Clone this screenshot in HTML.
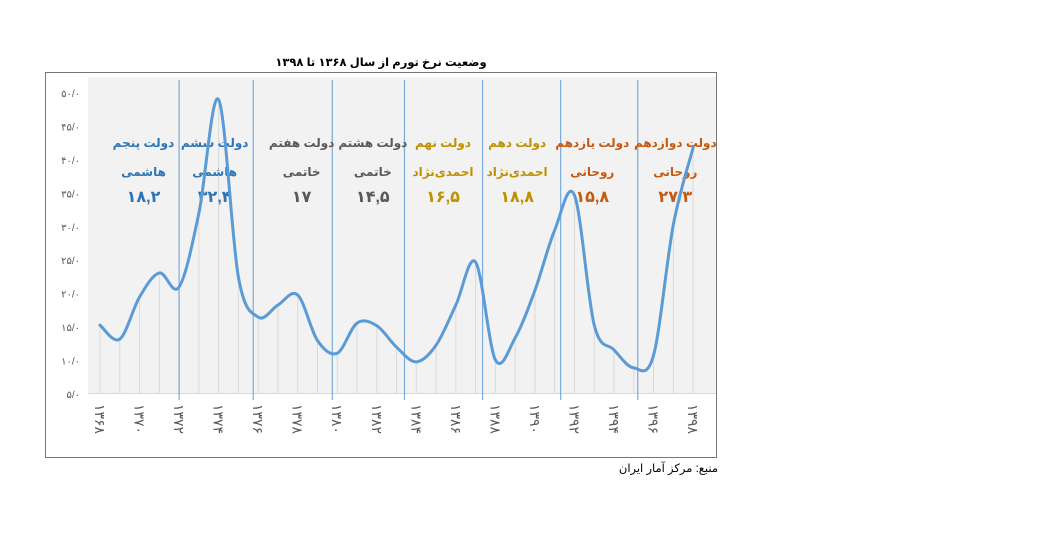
<!DOCTYPE html>
<html><head><meta charset="utf-8"><style>
body{margin:0;background:#fff;width:1047px;height:535px;overflow:hidden;font-family:"Liberation Sans","Noto Sans CJK SC",sans-serif}
</style></head><body>
<svg width="1047" height="535" xmlns="http://www.w3.org/2000/svg" font-family="'Liberation Sans','DejaVu Sans',sans-serif">
<rect x="45.5" y="72.5" width="671" height="385" fill="#fff" stroke="#777"/>
<rect x="88" y="77" width="628" height="316" fill="#f2f2f2"/>
<text x="381" y="66" text-anchor="middle" font-size="11.5" font-weight="bold" fill="#000" direction="rtl">وضعیت نرخ تورم از سال ۱۳۶۸ تا ۱۳۹۸</text>
<text x="718" y="472" text-anchor="start" font-size="11.5" fill="#000" direction="rtl">منبع: مرکز آمار ایران</text>
<g id="grid"></g><g id="bounds"></g><g id="yt"></g><g id="xt"></g><g id="labels"></g><g id="series"></g>
</svg>
<script>
const years=[1368,1369,1370,1371,1372,1373,1374,1375,1376,1377,1378,1379,1380,1381,1382,1383,1384,1385,1386,1387,1388,1389,1390,1391,1392,1393,1394,1395,1396,1397,1398];
const inflation=[15.3,13.2,19.5,23.1,21,32,49,22.5,16.5,18.3,19.8,13,11.1,15.6,15.2,12,9.8,12.3,18.3,24.7,10.1,13.4,20.5,29.5,34.7,15.3,11.6,8.9,10.8,30.3,41.8];
const yTicks=[5,10,15,20,25,30,35,40,45,50];
const yTickLabels=["۵/۰","۱۰/۰","۱۵/۰","۲۰/۰","۲۵/۰","۳۰/۰","۳۵/۰","۴۰/۰","۴۵/۰","۵۰/۰"];
const xTicks=[1368,1370,1372,1374,1376,1378,1380,1382,1384,1386,1388,1390,1392,1394,1396,1398];
const xTickLabels=["۱۳۶۸","۱۳۷۰","۱۳۷۲","۱۳۷۴","۱۳۷۶","۱۳۷۸","۱۳۸۰","۱۳۸۲","۱۳۸۴","۱۳۸۶","۱۳۸۸","۱۳۹۰","۱۳۹۲","۱۳۹۴","۱۳۹۶","۱۳۹۸"];
const boundaries=[1372,1375.75,1379.75,1383.4,1387.35,1391.3,1395.2];
const govNames=["دولت پنجم","دولت ششم","دولت هفتم","دولت هشتم","دولت نهم","دولت دهم","دولت یازدهم","دولت دوازدهم"];
const govPresidents=["هاشمی","هاشمی","خاتمی","خاتمی","احمدی‌نژاد","احمدی‌نژاد","روحانی","روحانی"];
const govAvg=["۱۸,۲","۳۲,۴","۱۷","۱۴,۵","۱۶,۵","۱۸,۸","۱۵,۸","۲۷/۳"];
const govCenter=[1370.2,1373.8,1378.2,1381.8,1385.35,1389.1,1392.9,1397.1];
const govColors=["#2e75b6","#2e75b6","#595959","#595959","#bf9000","#bf9000","#c55a11","#c55a11"];
const X=y=>100+(y-1368)*19.77, Y=v=>394-(v-5)*6.69;
const NS="http://www.w3.org/2000/svg";
function mk(t,a,p){const e=document.createElementNS(NS,t);for(const k in a)e.setAttribute(k,a[k]);p.appendChild(e);return e;}
const g=id=>document.getElementById(id);
years.forEach((y,i)=>{const l=mk('line',{x1:X(y),x2:X(y),y1:Y(inflation[i]),y2:393,stroke:'#d9d9d9','stroke-width':1},g('grid'));

});
const ax=mk('line',{x1:88,x2:716,y1:393.5,y2:393.5,stroke:'#d9d9d9'},g('grid'));


boundaries.forEach(b=>{const l=mk('line',{x1:X(b),x2:X(b),y1:80,y2:400,stroke:'#5b9bd5','stroke-width':1.2,opacity:0.8},g('bounds'));

});
yTicks.forEach((v,i)=>{const t=mk('text',{x:80,y:Y(v)+4,'text-anchor':'end','font-size':10,fill:'#595959'},g('yt'));t.textContent=yTickLabels[i];

});
xTicks.forEach((v,i)=>{const t=mk('text',{x:0,y:0,'font-size':14,fill:'#595959',transform:`translate(${X(v)-5},404) rotate(90)`},g('xt'));t.textContent=xTickLabels[i];

});
govNames.forEach((n,i)=>{const cx=X(govCenter[i]);
[[n,147],[govPresidents[i],176],[govAvg[i],202]].forEach((s,j)=>{const t=mk('text',{x:cx,y:s[1],'text-anchor':'middle','font-size':j==2?16:12,'font-weight':'bold',fill:govColors[i],direction:'rtl'},g('labels'));t.textContent=s[0];

});});
const P=years.map((y,i)=>[X(y),Y(inflation[i])]);
let d=`M${P[0][0]},${P[0][1]}`;
for(let i=0;i<P.length-1;i++){const p0=P[i-1]||P[i],p1=P[i],p2=P[i+1],p3=P[i+2]||p2;
d+=` C${p1[0]+(p2[0]-p0[0])/6},${p1[1]+(p2[1]-p0[1])/6} ${p2[0]-(p3[0]-p1[0])/6},${p2[1]-(p3[1]-p1[1])/6} ${p2[0]},${p2[1]}`;}
const path=mk('path',{d:d,fill:'none',stroke:'#5b9bd5','stroke-width':3,'stroke-linecap':'round'},g('series'));


</script>
</body></html>
